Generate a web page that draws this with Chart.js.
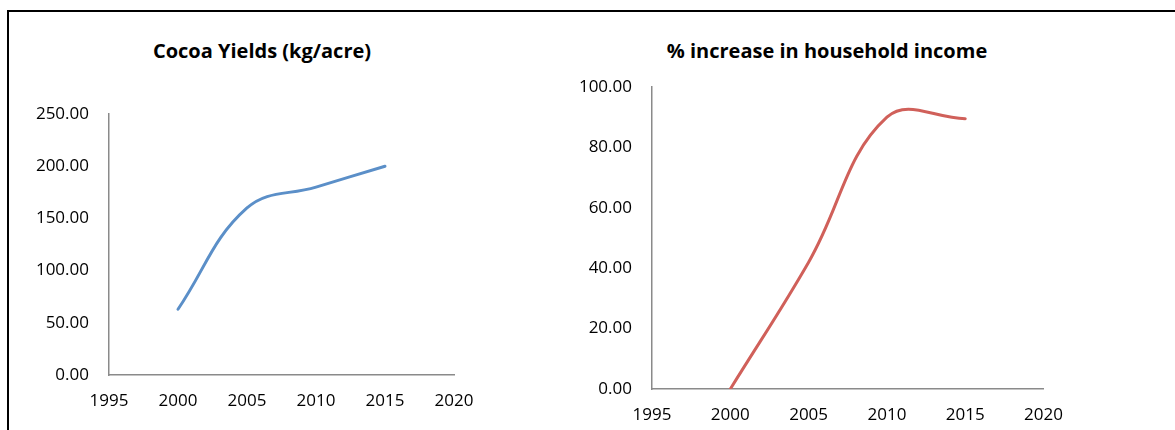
<!DOCTYPE html>
<html>
<head>
<meta charset="utf-8">
<script src="https://cdn.jsdelivr.net/npm/chart.js@4.4.0/dist/chart.umd.min.js"></script>
<style>
  html, body { margin: 0; padding: 0; background: #fff; }
  body { width: 1175px; height: 430px; position: relative; overflow: hidden; }
  .frame {
    position: absolute; left: 7px; top: 10px; width: 1180px; height: 440px;
    border-top: 2px solid #000; border-left: 2px solid #000;
  }
  .panel { position: absolute; top: 0; height: 430px; }
  #yield-panel  { left: 7px;   width: 510px; }
  #income-panel { left: 575px; width: 504px; }
  .chart-title {
    position: absolute; top: 37px; width: 400px; line-height: 24px;
    text-align: center; color: #000;
    font: bold 20px 'Open Sans', 'Noto Sans', sans-serif;
  }
  #yield-title  { left: 62px; }
  #income-title { left: 627px; }
</style>
</head>
<body>
<div class="frame"></div>
<div class="chart-title" id="yield-title">Cocoa Yields (kg/acre)</div>
<div class="chart-title" id="income-title">% increase in household income</div>
<div class="panel" id="yield-panel"><canvas id="yield-chart"></canvas></div>
<div class="panel" id="income-panel"><canvas id="income-chart"></canvas></div>

<script>
// Survey years and the two measured series
const years          = [2000, 2005, 2010, 2015];
const cocoaYields    = [63, 160, 180, 200];   // kg/acre
const incomeIncrease = [0, 42, 90, 89.5];     // % increase

// Axis ranges
const yearTicks   = [1995, 2000, 2005, 2010, 2015, 2020];
const yieldTicks  = [0, 50, 100, 150, 200, 250];
const incomeTicks = [0, 20, 40, 60, 80, 100];

const FONT = "'Open Sans', 'Noto Sans', sans-serif";
const AXIS_GREY = '#8a8a8a';

function toPoints(xs, ys) {
  return xs.map((x, i) => ({ x, y: ys[i] }));
}

/**
 * Build a single-series smoothed line chart with fixed axis boxes
 */
function makeLineChart(id, opts) {
  const ctx = document.getElementById(id).getContext('2d');
  return new Chart(ctx, {
    type: 'line',
    data: {
      datasets: [{
        data: toPoints(years, opts.values),
        borderColor: opts.color,
        borderWidth: 3,
        borderCapStyle: 'round',
        pointRadius: 0,
        tension: 0.4,
        fill: false
      }]
    },
    options: {
      responsive: true,
      maintainAspectRatio: false,
      animation: false,
      layout: { padding: { left: 0, right: opts.padRight, top: opts.padTop, bottom: 0 } },
      plugins: {
        legend: { display: false },
        tooltip: { enabled: false },
        title: { display: false }
      },
      scales: {
        x: {
          type: 'linear',
          min: yearTicks[0],
          max: yearTicks[yearTicks.length - 1],
          afterBuildTicks: (s) => { s.ticks = yearTicks.map(v => ({ value: v })); },
          afterFit: (s) => { s.height = opts.xAxisHeight; },
          grid: { display: false, drawTicks: false },
          border: { display: true, color: AXIS_GREY, width: 1.5 },
          ticks: {
            color: '#000',
            padding: 16,
            maxRotation: 0,
            font: { family: FONT, size: 17 },
            callback: (v) => String(v)
          }
        },
        y: {
          min: opts.yTicks[0],
          max: opts.yTicks[opts.yTicks.length - 1],
          afterBuildTicks: (s) => { s.ticks = opts.yTicks.map(v => ({ value: v })); },
          afterFit: (s) => { s.width = opts.yAxisWidth; },
          grid: { display: false, drawTicks: false },
          border: { display: true, color: AXIS_GREY, width: 1.5 },
          ticks: {
            color: '#000',
            padding: 20,
            font: { family: FONT, size: 17 },
            callback: (v) => v.toFixed(2)
          }
        }
      }
    }
  });
}

makeLineChart('yield-chart', {
  values: cocoaYields,
  yTicks: yieldTicks,
  color: '#5b8fc8',
  padTop: 114,
  padRight: 63,
  yAxisWidth: 102,
  xAxisHeight: 55
});

makeLineChart('income-chart', {
  values: incomeIncrease,
  yTicks: incomeTicks,
  color: '#d0605a',
  padTop: 87,
  padRight: 30,
  yAxisWidth: 77,
  xAxisHeight: 41
});
</script>
</body>
</html>
